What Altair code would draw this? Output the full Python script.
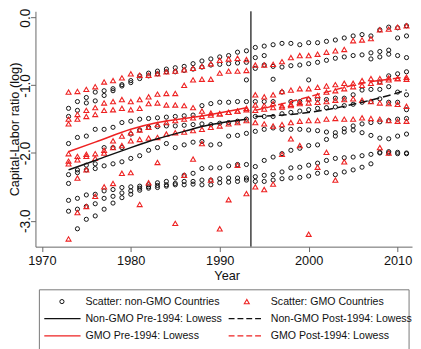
import altair as alt
import pandas as pd

N = None
years = list(range(1973, 2012))

# ---- Non-GMO countries: log capital-labor ratio, 1973-2011
ngmo_a = [-1.34,-1.24,-1.18,-1.10,-1.08,-1.05,-0.99,-0.93,-0.86,-0.82,-0.79,
          -0.76,-0.74,-0.72,-0.68,-0.64,-0.61,-0.58,-0.56,-0.51,-0.49,
          -0.44,-0.42,-0.40,-0.38,-0.38,-0.40,-0.37,-0.37,-0.35,-0.33,-0.30,-0.27,-0.25,-0.27,-0.18,-0.14,-0.15,-0.12]
ngmo_b = [-1.46,-1.37,-1.26,-1.23,-1.15,-1.08,-1.01,-0.96,-0.90,-0.86,-0.83,
          -0.80,-0.80,-0.78,-0.76,-0.73,-0.70,-0.69,-0.68,-0.67,-0.66,
          -0.75,-0.70,-0.72,-0.73,-0.71,-0.70,-0.68,-0.66,-0.63,-0.60,-0.58,-0.56,-0.55,-0.52,-0.50,-0.48,-0.30,-0.27]
ngmo_c = [-1.86,-1.77,-1.75,-1.65,-1.65,-1.62,-1.55,-1.53,-1.50,-1.49,-1.48,
          -1.47,-1.46,-1.45,-1.44,-1.30,-1.27,-1.25,-1.25,-1.24,-1.24,
          -1.24,-1.24,-1.24,-1.10,-1.24,-1.24,-1.21,-1.21,-1.21,-1.19,-1.19,-1.14,-1.07,-1.06,-1.06,-1.02,-0.83,-0.80]
ngmo_d = [-2.45,-2.29,-2.25,-2.23,-1.92,-1.92,-1.92,-1.72,-1.66,-1.62,-1.61,
          -1.60,-1.60,-1.59,-1.58,-1.57,-1.58,-1.56,-1.55,-1.53,-1.50,
          -1.46,-1.46,-1.46,-1.42,-1.40,-1.38,-1.36,-1.34,-1.33,-1.32,-1.30,-1.28,-1.25,-1.24,-1.20,-1.25,-1.25,-1.36]
ngmo_e = [-2.32,-2.25,-2.18,-2.16,-2.19,-2.16,-2.13,-2.08,-2.04,-1.96,-1.92,
          -1.86,-1.92,-1.88,-1.84,-1.83,-1.88,-1.87,-1.75,-1.74,-1.71,
          -1.68,-1.65,-1.63,-1.65,-1.65,-1.65,-1.66,-1.67,-1.69,-1.70,-1.64,-1.60,-1.57,-1.55,-1.54,-1.52,-1.50,-1.49]
ngmo_f = [-2.70,-2.67,-2.62,-2.61,-2.56,-2.54,-2.51,-2.50,-2.49,-2.47,-2.44,
          -2.42,-2.37,-2.33,-2.30,-2.23,-2.22,-2.22,-2.19,-2.17,-2.17,
          -2.20,-2.11,-2.06,-2.01,-1.96,-1.93,-1.89,-1.88,-1.80,-1.75,-1.69,-1.66,-1.70,-1.74,-1.78,-1.79,-1.75,-1.72]
ngmo_g = [-2.86,-2.83,-2.79,-2.75,-2.67,-2.64,-2.59,-2.56,-2.52,-2.50,-2.48,
          -2.47,-2.45,-2.42,-2.42,-2.40,-2.40,-2.38,-2.37,-2.37,-2.37,
          -2.35,-2.33,-2.32,-2.28,-2.22,-2.21,-2.18,-2.15,-2.11,-2.08,-2.07,-2.06,-2.04,-2.02,-1.99,-2.00,-2.01,-2.01]
ngmo_h = [N,-3.12,-2.98,-2.93,-2.83,-2.74,-2.66,-2.61,-2.55,-2.52,-2.51,
          -2.49,-2.47,-2.47,-2.46,-2.47,-2.47,-2.44,-2.43,-2.42,-2.40,
          -2.42,-2.42,-2.40,-2.38,-2.37,-2.36,-2.34,-2.30,-2.29,-2.32,-2.28,-2.25,-2.21,-2.16,-2.00,-1.98,-1.99,-2.00]
ngmo_i = [N,N,N,N,N,N,N,N,N,N,N,
          N,N,N,N,N,N,N,N,N,-0.92,
          N,N,-0.91,N,N,N,-0.92,N,N,N,N,N,N,N,-0.95,-0.86,-1.10,-1.14]
ngmo_j = [N,N,N,N,N,N,N,N,N,N,N,
          N,N,N,N,N,N,N,N,N,N,
          -0.59,-0.56,N,N,N,N,N,N,N,N,N,N,N,-0.61,-0.58,-0.54,-0.56,-0.59]

# ---- GMO countries
gmo_a = [-1.10,-1.09,-1.06,-1.02,-0.95,-0.93,-0.89,-0.83,-0.85,-0.85,-0.83,
         -0.80,-0.79,-0.77,-0.75,-0.72,-0.68,-0.63,-0.61,-0.60,-0.62,
         -0.70,-0.70,-0.69,-0.65,-0.59,-0.56,-0.56,-0.54,-0.51,-0.49,-0.47,-0.34,-0.33,-0.31,-0.18,-0.17,-0.14,-0.12]
gmo_b = [-1.50,-1.43,-1.37,-1.33,-1.26,-1.24,-1.21,-1.24,-1.21,-1.17,-1.13,
         -1.12,-1.12,-1.00,-0.92,-0.91,-0.91,-0.82,-0.79,-0.79,-0.78,
         -1.14,-1.17,-1.14,-1.09,-1.07,-1.05,-1.05,-1.03,-1.01,-0.99,-0.97,-0.97,-0.93,-0.90,-0.90,-0.89,-0.90,-0.91]
gmo_c = [-1.57,-1.50,-1.46,-1.43,-1.37,-1.36,-1.34,-1.36,-1.34,-1.27,-1.26,
         -1.29,-1.29,-1.30,-1.33,-1.38,-1.41,-1.42,-1.40,-1.38,-1.34,
         -1.29,-1.30,-1.27,-1.30,-1.28,-1.27,-1.26,-1.25,-1.24,-1.22,-1.21,-1.20,-1.22,-1.24,-1.26,-1.27,-1.28,-1.31]
gmo_d = [-2.01,-2.05,-2.05,-2.08,-2.00,-1.92,-1.89,-1.82,-1.80,-1.78,-1.77,
         -1.72,-1.70,-1.69,-1.67,-1.65,-1.62,-1.60,-1.57,-1.55,-1.52,
         -1.55,-1.57,-1.60,-1.58,-1.55,-1.53,-1.52,-1.52,-1.50,-1.49,-1.50,-1.50,-1.48,-1.49,-1.50,-1.52,-1.53,-1.53]
gmo_e = [-2.12,-2.10,-2.02,-2.01,-1.96,-1.82,-1.75,-1.70,-1.66,-1.62,-1.58,
         -1.55,-1.52,-1.50,-1.48,-1.46,-1.44,-1.42,-1.40,-1.38,-1.36,
         -1.37,-1.35,-1.33,-1.32,-1.30,-1.25,-1.20,-1.15,-1.10,-1.08,-1.05,-1.02,-1.00,-0.97,-0.95,-0.92,-0.90,-0.88]
gmo_f = [-2.16,-2.37,-2.25,N,N,N,N,N,N,N,N,
         N,N,N,N,N,N,N,N,N,N,
         N,N,N,N,N,N,N,N,N,N,N,N,N,N,N,N,N,N]
gmo_g = [-3.27,-2.88,-2.79,-2.64,-2.50,-2.45,-2.30,-2.29,-2.76,-2.44,-2.14,
         N,-3.04,-2.33,-2.09,-1.86,-2.40,-3.12,-2.69,-2.18,-2.60,
         -2.50,-2.54,-2.46,-2.02,-1.79,-1.89,-3.20,-2.21,-1.99,-2.40,-2.13,N,N,N,-1.92,-2.00,N,N]

# ---- Lowess curves
pre_years = [1973, 1976, 1980, 1983, 1986, 1989, 1993]
lw_ngmo_pre = [-2.25, -2.11, -1.92, -1.79, -1.68, -1.58, -1.50]
lw_gmo_pre = [-1.98, -1.84, -1.65, -1.55, -1.49, -1.43, -1.33]
post_years = [1994, 1998, 2002, 2006, 2009, 2011]
lw_ngmo_post = [-1.46, -1.43, -1.36, -1.25, -1.15, -1.07]
lw_gmo_post = [-1.37, -1.24, -1.10, -0.97, -0.91, -0.88]

break_year = [1993.5]

legend_labels = ["Scatter: non-GMO Countries", "Scatter: GMO Countries",
                 "Non-GMO Pre-1994: Lowess", "Non-GMO Post-1994: Lowess",
                 "GMO Pre-1994: Lowess", "GMO Post-1994: Lowess"]


def to_long(series):
    rows = []
    for name, vals in series.items():
        for yr, v in zip(years, vals):
            if v is not None:
                rows.append({"year": yr, "value": v, "country": name})
    return pd.DataFrame(rows)


pts_ngmo = to_long({"a": ngmo_a, "b": ngmo_b, "c": ngmo_c, "d": ngmo_d, "e": ngmo_e,
                    "f": ngmo_f, "g": ngmo_g, "h": ngmo_h, "i": ngmo_i, "j": ngmo_j})
pts_gmo = to_long({"a": gmo_a, "b": gmo_b, "c": gmo_c, "d": gmo_d, "e": gmo_e,
                   "f": gmo_f, "g": gmo_g})

BLACK = "#111111"
RED = "#ee2222"
FONT = "Liberation Sans"
NARROW = "Liberation Sans Narrow, Arial Narrow, Liberation Sans"

x_enc = alt.X("year:Q",
              scale=alt.Scale(domain=[1969.28, 2011.62], nice=False, zero=False),
              axis=alt.Axis(values=[1970, 1980, 1990, 2000, 2010], format="d",
                            title="Year", grid=False, labelFlush=False,
                            labelOverlap=False, labelFont=NARROW, labelFontSize=13,
                            labelPadding=3, tickSize=5, titleFont=NARROW,
                            titleFontSize=13, titleFontWeight="normal",
                            titleX=195, titleY=34, titleAlign="center",
                            titleBaseline="alphabetic"))
y_enc = alt.Y("value:Q",
              scale=alt.Scale(domain=[-3.384, 0.094], nice=False, zero=False),
              axis=alt.Axis(values=[0, -1, -2, -3],
                            labelExpr="(datum.value < 0 ? '-' : '') + format(abs(datum.value), '.1f')",
                            title="Capital-Labor ratio (log)", grid=False,
                            labelFlush=False, labelOverlap=False, labelAngle=270,
                            labelAlign="center", labelBaseline="alphabetic",
                            labelFont=FONT, labelFontSize=14, labelPadding=1,
                            tickSize=5, titleFont=FONT, titleFontSize=13,
                            titleFontWeight="normal", titleAngle=270,
                            titleX=-21, titleY=120, titleAlign="center",
                            titleBaseline="middle"))

vline = alt.Chart(pd.DataFrame({"year": break_year})).mark_rule(
    color="#5a5a5a", strokeWidth=1.8).encode(x=x_enc)

sc_ngmo = alt.Chart(pts_ngmo).mark_point(
    shape="circle", filled=False, color=BLACK, size=18, strokeWidth=1, opacity=1
).encode(x=x_enc, y=y_enc)
sc_gmo = alt.Chart(pts_gmo).mark_point(
    shape="triangle-up", filled=False, color=RED, size=26, strokeWidth=1.1, opacity=1
).encode(x=x_enc, y=y_enc)


def lw_chart(xs, ys, color, dash):
    df = pd.DataFrame({"year": xs, "value": ys})
    kw = dict(color=color, strokeWidth=1.5, interpolate="monotone")
    if dash:
        kw["strokeDash"] = [8, 4]
    return alt.Chart(df).mark_line(**kw).encode(x=x_enc, y=y_enc)


lines = [lw_chart(pre_years, lw_ngmo_pre, BLACK, False),
         lw_chart(post_years, lw_ngmo_post, BLACK, True),
         lw_chart(pre_years, lw_gmo_pre, RED, False),
         lw_chart(post_years, lw_gmo_post, RED, True)]

# ---- legend box drawn below the plot
one = pd.DataFrame({"k": [0]})
rows_y = [296, 313.5, 331]
col_sym = [(9, 46, 27), (197, 231, 215.5)]
col_text = [51, 240]
leg = [alt.Chart(one).mark_rect(fillOpacity=0, stroke="#777777", strokeWidth=1).encode(
    x=alt.value(4), x2=alt.value(381), y=alt.value(284), y2=alt.value(352))]
for i, lab in enumerate(legend_labels):
    r, c = i // 2, i % 2
    yy = rows_y[r]
    x0, x1, xc = col_sym[c]
    if i == 0:
        leg.append(alt.Chart(one).mark_point(shape="circle", filled=False, color=BLACK,
                                             size=18, strokeWidth=1, opacity=1).encode(
            x=alt.value(xc), y=alt.value(yy)))
    elif i == 1:
        leg.append(alt.Chart(one).mark_point(shape="triangle-up", filled=False, color=RED,
                                             size=26, strokeWidth=1.1, opacity=1).encode(
            x=alt.value(xc), y=alt.value(yy)))
    else:
        col = BLACK if i in (2, 3) else RED
        kw = dict(color=col, strokeWidth=1.3)
        if i in (3, 5):
            kw["strokeDash"] = [6, 3]
        leg.append(alt.Chart(one).mark_rule(**kw).encode(
            x=alt.value(x0), x2=alt.value(x1), y=alt.value(yy)))
    leg.append(alt.Chart(one).mark_text(align="left", baseline="middle", font=FONT,
                                        fontSize=10.8, color="#111111").encode(
        x=alt.value(col_text[c]), y=alt.value(yy), text=alt.value(lab)))

chart = alt.layer(vline, sc_ngmo, sc_gmo, *lines, *leg).properties(
    width=384, height=240,
    autosize=alt.AutoSizeParams(type="none"),
    padding={"left": 28, "top": 0, "right": 1, "bottom": 101},
    background="white",
).configure_view(stroke=None).configure_axis(
    domainColor="#666666", tickColor="#666666", labelColor="#111111",
    titleColor="#111111", domainWidth=1, tickWidth=1)

chart.save("out.html", embed_options={"renderer": "svg", "actions": False})
